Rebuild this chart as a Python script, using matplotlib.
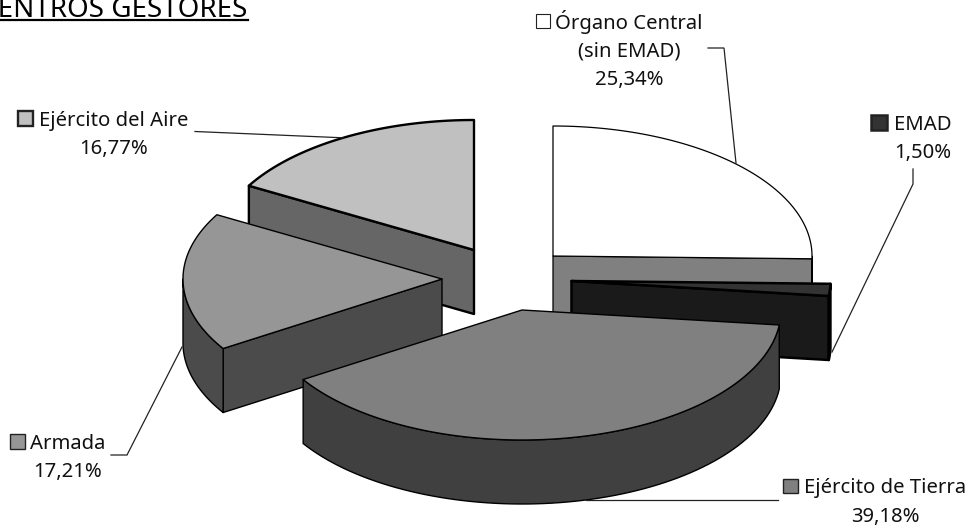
import numpy as np
import matplotlib
matplotlib.use("Agg")
import matplotlib.pyplot as plt
from matplotlib.patches import Polygon, Rectangle

# valores del grafico, en el sentido de las agujas desde arriba
centros = ["Órgano Central\n(sin EMAD)", "EMAD", "Ejército de Tierra", "Armada", "Ejército del Aire"]
porcentajes = [25.34, 1.50, 39.18, 17.21, 16.77]
etiquetas_pct = ["25,34%", "1,50%", "39,18%", "17,21%", "16,77%"]

color_sup = ["#ffffff", "#333333", "#808080", "#969696", "#c0c0c0"]
color_lado = ["#808080", "#1a1a1a", "#404040", "#4b4b4b", "#666666"]
grosor = [0.9, 1.8, 1.0, 1.0, 1.7]
# centro de cada porcion (en pixeles), ya con la separacion
vertices = [(553, 256), (571.5, 281), (522, 310), (442, 279), (474, 250)]
orden = [4, 0, 3, 1, 2]

RX, RY, ALTO = 259, 130, 64

plt.rcParams['font.family'] = ['Noto Sans', 'DejaVu Sans']
fig = plt.figure(figsize=(9.74, 5.26), dpi=100)
ax = fig.add_axes([0, 0, 1, 1])
ax.set_xlim(0, 974)
ax.set_ylim(526, 0)
ax.axis("off")


def borde(cx, cy, ang):
    a = np.radians(ang)
    return np.column_stack([cx + RX * np.sin(a), cy - RY * np.cos(a)])


limites = np.concatenate([[0], np.cumsum(porcentajes)]) / sum(porcentajes) * 360

for i in orden:
    ini, fin = limites[i], limites[i + 1]
    cx, cy = vertices[i]
    kw = dict(edgecolor="black", linewidth=grosor[i], joinstyle="round")
    # paredes rectas que miran al observador
    for ang, visible in ((ini, np.sin(np.radians(ini)) < -0.01), (fin, np.sin(np.radians(fin)) > 0.01)):
        if visible:
            p = borde(cx, cy, np.array([ang]))[0]
            ax.add_patch(Polygon([(cx, cy), p, (p[0], p[1] + ALTO), (cx, cy + ALTO)],
                                 facecolor=color_lado[i], **kw))
    # pared curva, solo la mitad delantera
    a0, a1 = max(ini, 90), min(fin, 270)
    if a1 > a0:
        arco = borde(cx, cy, np.linspace(a0, a1, 80))
        abajo = arco[::-1] + [0, ALTO]
        ax.add_patch(Polygon(np.vstack([arco, abajo]), facecolor=color_lado[i], **kw))
    # cara superior
    arco = borde(cx, cy, np.linspace(ini, fin, 120))
    ax.add_patch(Polygon(np.vstack([[(cx, cy)], arco]), facecolor=color_sup[i], **kw))

# lineas guia
guias = [
    [(708, 48), (724, 48), (736, 163)],
    [(913, 169), (913, 184), (832, 352)],
    [(586, 500), (778, 500)],
    [(111, 455), (127, 455), (182, 347)],
    [(195, 131.5), (343, 137.8)],
]
for g in guias:
    xs, ys = zip(*g)
    ax.plot(xs, ys, color="#222222", lw=0.9, solid_joinstyle="miter")

# textos: (x, y base) del nombre y del porcentaje
fs = 14.6
pos_nombre = [(629, 56), (922.5, 130), (885, 492.7), (67.5, 449), (113.5, 125.7)]
pos_pct = [(629, 85), (923, 158), (885, 521.7), (68, 477), (113.5, 154)]
cajas = [(535.7, 14, 14.3, 14), (870.5, 115, 16, 15), (782.5, 478.5, 15.5, 14.5), (10, 434, 14.5, 14.5), (17.5, 111, 15.5, 15)]
for i in range(5):
    ax.text(pos_nombre[i][0], pos_nombre[i][1], centros[i], fontsize=fs, color="#111111",
            ha="center", va="baseline", linespacing=1.45)
    ax.text(pos_pct[i][0], pos_pct[i][1], etiquetas_pct[i], fontsize=fs, color="#111111",
            ha="center", va="baseline")
    x, y, w, h = cajas[i]
    ax.add_patch(Rectangle((x, y), w, h, facecolor=color_sup[i], edgecolor="#222222",
                           linewidth=grosor[i] if i != 0 else 0.8))

# titulo, cortado por la izquierda y por arriba
ax.text(247, 17, "CENTROS GESTORES", fontsize=20, color="black", ha="right", va="baseline")
ax.plot([0, 248], [19.7, 19.7], color="black", lw=1.6)

fig.savefig("out.png", dpi=100)
